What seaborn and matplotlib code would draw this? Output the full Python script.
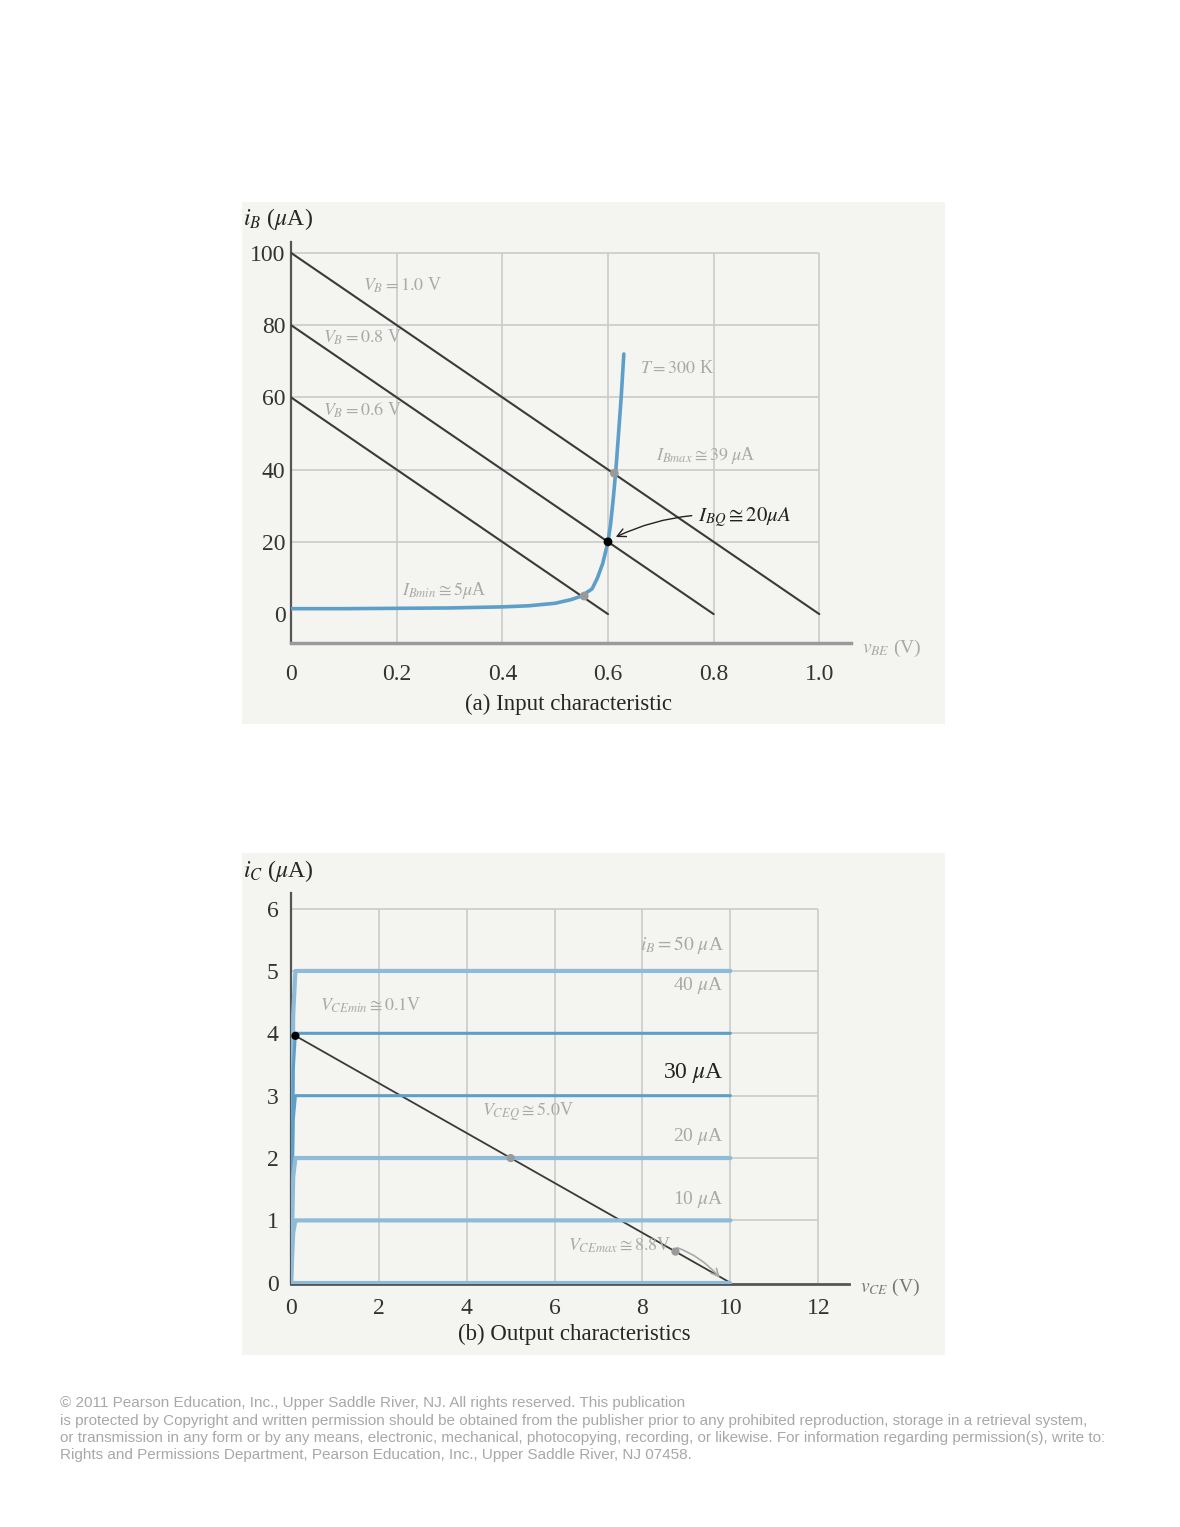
import numpy as np
import pandas as pd
import seaborn as sns
import matplotlib
matplotlib.use("Agg")
import matplotlib.pyplot as plt
from matplotlib.patches import Rectangle

# ---------------- data ----------------
# (a) input characteristic, T = 300 K
vbe_curve = [0.0, 0.1, 0.2, 0.3, 0.4, 0.45, 0.5, 0.53, 0.55, 0.57, 0.58, 0.59,
             0.60, 0.605, 0.61, 0.615, 0.62, 0.625, 0.63]
ib_curve = [1.5, 1.5, 1.6, 1.7, 2.0, 2.3, 3.0, 4.0, 5.0, 7.0, 10.0, 14.0,
            20.0, 25.0, 32.0, 40.0, 50.0, 60.0, 72.0]
# input load lines: iB intercept (uA) at vBE = 0 and vBE intercept (V) at iB = 0
load_names = ["$V_B = 1.0$ V", "$V_B = 0.8$ V", "$V_B = 0.6$ V"]
load_ib0 = [100, 80, 60]
load_vbe0 = [1.0, 0.8, 0.6]
q_in_vbe = [0.612, 0.600, 0.555]
q_in_ib = [39, 20, 5]
x_ticks_a = [0, 0.2, 0.4, 0.6, 0.8, 1.0]
x_labels_a = ["0", "0.2", "0.4", "0.6", "0.8", "1.0"]
y_ticks_a = [0, 20, 40, 60, 80, 100]

# (b) output characteristics
ib_levels = [50, 40, 30, 20, 10, 0]          # uA
vce_knee = [0.0, 0.05, 0.1, 10.0]            # V
ic_50 = [0.0, 4.3, 5.0, 5.0]
ic_40 = [0.0, 3.4, 4.0, 4.0]
ic_30 = [0.0, 2.6, 3.0, 3.0]
ic_20 = [0.0, 1.7, 2.0, 2.0]
ic_10 = [0.0, 0.8, 1.0, 1.0]
ic_0 = [0.0, 0.0, 0.0, 0.0]
ic_curves = [ic_50, ic_40, ic_30, ic_20, ic_10, ic_0]
curve_labels = ["$i_B = 50\\ \\mu$A", "40 $\\mu$A", "30 $\\mu$A", "20 $\\mu$A", "10 $\\mu$A"]
vce_load = [0.0, 10.0]
ic_load = [4.0, 0.0]
q_out_vce = [0.1, 5.0, 8.75]
q_out_ic = [3.96, 2.0, 0.5]
x_ticks_b = [0, 2, 4, 6, 8, 10, 12]
y_ticks_b = [0, 1, 2, 3, 4, 5, 6]

# ---------------- style ----------------
sns.set_theme(style="white")
plt.rcParams["font.family"] = ["Liberation Serif", "DejaVu Serif"]
plt.rcParams["mathtext.fontset"] = "stix"

W, H = 1180, 1527
fig = plt.figure(figsize=(W / 100, H / 100), dpi=100)
fig.patch.set_facecolor("white")

PANEL = "#f4f4f1"
GRID = "#cbcbcb"
BLUE = "#5d9fc8"
LBLUE = "#8dbbd8"
DARK = "#3a3a3a"
FADE = "#a9a9a9"

def frac(x0, y0, x1, y1):
    return [x0 / W, 1 - y1 / H, (x1 - x0) / W, (y1 - y0) / H]

for (x0, y0, x1, y1) in [(242, 202, 945, 724), (242, 853, 945, 1355)]:
    fig.patches.append(Rectangle((x0 / W, 1 - y1 / H), (x1 - x0) / W, (y1 - y0) / H,
                                 transform=fig.transFigure, facecolor=PANEL,
                                 edgecolor="none", zorder=-10))

# ---------------- (a) input characteristic ----------------
ax1 = fig.add_axes(frac(291, 242, 851, 643))
ax1.set_zorder(2)
ax1.set_facecolor("none")
ax1.set_xlim(0, 1.06)
ax1.set_ylim(-8, 103)
ax1.vlines(x_ticks_a[1:], -8, 100, color=GRID, lw=1.2, zorder=1)
ax1.hlines(y_ticks_a[1:], 0, 1.0, color=GRID, lw=1.2, zorder=1)

for name, i0, v0 in zip(load_names, load_ib0, load_vbe0):
    d = pd.DataFrame({"v": [0.0, v0], "i": [i0, 0.0]})
    sns.lineplot(data=d, x="v", y="i", ax=ax1, color=DARK, lw=1.5,
                 sort=False, estimator=None, zorder=3)

dfc = pd.DataFrame({"v": vbe_curve, "i": ib_curve})
sns.lineplot(data=dfc, x="v", y="i", ax=ax1, color=BLUE, lw=2.6,
             sort=False, estimator=None, zorder=4)

dq = pd.DataFrame({"v": q_in_vbe, "i": q_in_ib})
sns.scatterplot(data=dq, x="v", y="i", ax=ax1, color=["#9a9a9a", "black", "#9a9a9a"],
                s=40, edgecolor="none", zorder=5)

# load line labels (faded)
ax1.text(0.21, 91, load_names[0], color=FADE, fontsize=13, ha="center", va="center")
ax1.text(0.135, 76.5, load_names[1], color=FADE, fontsize=13, ha="center", va="center")
ax1.text(0.135, 56.5, load_names[2], color=FADE, fontsize=13, ha="center", va="center")
ax1.text(0.66, 68, "$T = 300$ K", color=FADE, fontsize=13, ha="left", va="center")
ax1.text(0.69, 44, "$I_{Bmax}\\cong 39\\ \\mu$A", color=FADE, fontsize=13, ha="left", va="center")
ax1.text(0.21, 6.5, "$I_{Bmin}\\cong 5\\mu$A", color=FADE, fontsize=13, ha="left", va="center")
ax1.annotate("$I_{BQ}\\cong 20\\mu A$", xy=(0.61, 21), xytext=(0.77, 27),
             fontsize=15, ha="left", va="center", color="#222222",
             arrowprops=dict(arrowstyle="->", color="#222222", lw=1.0,
                             connectionstyle="arc3,rad=0.15"))

ax1.set_xticks(x_ticks_a)
ax1.set_xticklabels(x_labels_a)
ax1.set_yticks(y_ticks_a)
ax1.tick_params(axis="x", length=0, pad=15, labelsize=17, colors="#333333")
ax1.tick_params(axis="y", length=0, pad=4, labelsize=17, colors="#333333")
ax1.set_xlabel("")
ax1.set_ylabel("")
for s in ["top", "right"]:
    ax1.spines[s].set_visible(False)
ax1.spines["left"].set_color("#555555")
ax1.spines["left"].set_linewidth(1.6)
ax1.spines["bottom"].set_color("#9a9a9a")
ax1.spines["bottom"].set_linewidth(2.5)

ax1.text(-0.09, 109.5, "$i_B$ ($\\mu$A)", fontsize=17, ha="left", va="center",
         clip_on=False)
ax1.text(1.08, -9.5, "$v_{BE}$ (V)", fontsize=14, color=FADE, ha="left", va="center",
         clip_on=False)
ax1.text(0.525, -25, "(a) Input characteristic", fontsize=16.5, ha="center",
         va="center", clip_on=False)

# ---------------- (b) output characteristics ----------------
ax2 = fig.add_axes(frac(291, 893, 849, 1284))
ax2.set_zorder(2)
ax2.set_facecolor("none")
ax2.set_xlim(0, 12.7)
ax2.set_ylim(-0.02, 6.25)
ax2.vlines(x_ticks_b[1:], 0, 6, color=GRID, lw=1.2, zorder=1)
ax2.hlines(y_ticks_b[1:], 0, 12, color=GRID, lw=1.2, zorder=1)

for lvl, ic in zip(ib_levels, ic_curves):
    d = pd.DataFrame({"v": vce_knee, "i": ic})
    sharp = lvl in (40, 30)
    sns.lineplot(data=d, x="v", y="i", ax=ax2, color=BLUE if sharp else LBLUE,
                 lw=2.2 if sharp else 3.0, sort=False, estimator=None, zorder=4)

dl = pd.DataFrame({"v": vce_load, "i": ic_load})
sns.lineplot(data=dl, x="v", y="i", ax=ax2, color=DARK, lw=1.3,
             sort=False, estimator=None, zorder=3)

dq2 = pd.DataFrame({"v": q_out_vce, "i": q_out_ic})
sns.scatterplot(data=dq2, x="v", y="i", ax=ax2, color=["black", "#9a9a9a", "#9a9a9a"],
                s=35, edgecolor="none", zorder=5)

label_y = [5.42, 4.77, 3.36, 2.34, 1.33]
for lab, yy, lvl in zip(curve_labels, label_y, ib_levels):
    ax2.text(9.85, yy, lab, fontsize=17 if lvl == 30 else 14,
             color="#222222" if lvl == 30 else FADE, ha="right", va="center")

ax2.text(0.65, 4.45, "$V_{CEmin}\\cong 0.1$V", color=FADE, fontsize=13, ha="left", va="center")
ax2.text(4.35, 2.75, "$V_{CEQ}\\cong 5.0$V", color=FADE, fontsize=13, ha="left", va="center")
ax2.annotate("$V_{CEmax}\\cong 8.8$V", xy=(9.8, 0.05), xytext=(6.3, 0.6),
             color=FADE, fontsize=13, ha="left", va="center",
             arrowprops=dict(arrowstyle="->", color=FADE, lw=1.2,
                             connectionstyle="arc3,rad=-0.3"))

ax2.set_xticks(x_ticks_b)
ax2.set_yticks(y_ticks_b)
ax2.tick_params(axis="x", length=0, pad=10, labelsize=17, colors="#333333")
ax2.tick_params(axis="y", length=0, pad=9, labelsize=17, colors="#333333")
ax2.set_xlabel("")
ax2.set_ylabel("")
for s in ["top", "right"]:
    ax2.spines[s].set_visible(False)
ax2.spines["left"].set_color("#555555")
ax2.spines["left"].set_linewidth(1.6)
ax2.spines["bottom"].set_color("#555555")
ax2.spines["bottom"].set_linewidth(2.0)

ax2.text(-1.1, 6.6, "$i_C$ ($\\mu$A)", fontsize=17, ha="left", va="center",
         clip_on=False)
ax2.text(12.95, -0.08, "$v_{CE}$ (V)", fontsize=14, color="#777777", ha="left",
         va="center", clip_on=False)
ax2.text(6.45, -0.83, "(b) Output characteristics", fontsize=16.5, ha="center",
         va="center", clip_on=False)

# ---------------- faded copyright notice ----------------
notice = [
    "© 2011 Pearson Education, Inc., Upper Saddle River, NJ. All rights reserved. This publication",
    "is protected by Copyright and written permission should be obtained from the publisher prior to any prohibited reproduction, storage in a retrieval system,",
    "or transmission in any form or by any means, electronic, mechanical, photocopying, recording, or likewise. For information regarding permission(s), write to:",
    "Rights and Permissions Department, Pearson Education, Inc., Upper Saddle River, NJ 07458.",
]
for k, line in enumerate(notice):
    fig.text(60 / W, 1 - (1403 + 17.5 * k) / H, line, fontsize=11.0,
             family=["Liberation Sans", "DejaVu Sans"], color="#a8a8a8",
             ha="left", va="center")

fig.savefig("out.png", dpi=100, facecolor="white")
